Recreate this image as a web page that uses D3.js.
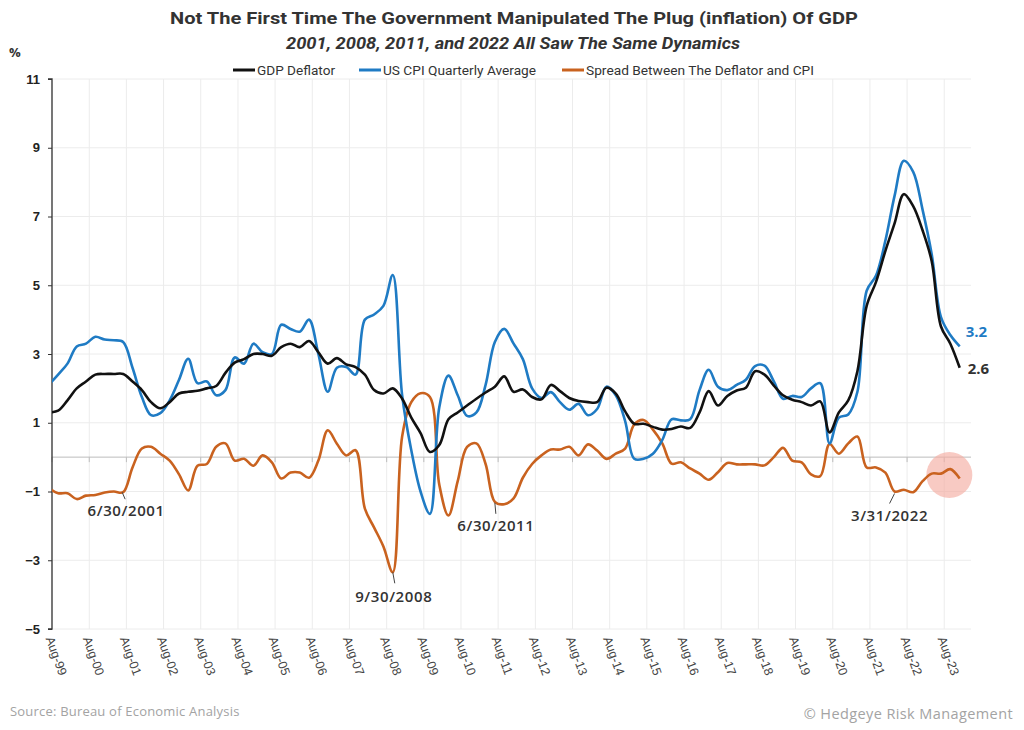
<!DOCTYPE html>
<html>
<head>
<meta charset="utf-8">
<script src="https://cdn.jsdelivr.net/npm/d3@7"></script>
<style>
  body { margin: 0; background: #fff; }
  svg { display: block; font-family: "Open Sans", "Noto Sans", sans-serif; }
</style>
</head>
<body>
<div id="chart"></div>
<script>
// quarterly values, Q2 1999 .. Q4 2023 (quarter-end dates)
const firstQuarter = [1999, 6];
const gdpDeflator = [
  1.3, 1.35, 1.65, 2.0, 2.2, 2.4, 2.42, 2.42, 2.42, 2.2,
  1.95, 1.6, 1.42, 1.6, 1.85, 1.9, 1.93, 2.0, 2.07, 2.45,
  2.75, 2.85, 3.0, 3.0, 2.95, 3.2, 3.3, 3.2, 3.38, 3.05,
  2.72, 2.88, 2.7, 2.62, 2.4, 1.95, 1.85, 2.0, 1.7, 1.15,
  0.7, 0.15, 0.35, 1.1, 1.3, 1.5, 1.7, 1.88, 2.05, 2.35,
  1.9, 1.97, 1.75, 1.68, 2.1, 1.92, 1.72, 1.63, 1.6, 1.6,
  2.02, 1.85, 1.33, 0.97, 0.97, 0.88, 0.8, 0.82, 0.89, 0.85,
  1.3, 1.92, 1.5, 1.78, 1.94, 2.02, 2.5, 2.4, 2.08, 1.8,
  1.67, 1.6, 1.5, 1.62, 0.72, 1.3, 1.65, 2.5, 4.4, 5.1,
  6.0, 6.8, 7.65, 7.3, 6.6, 5.7, 3.8, 3.3, 2.6
];
const cpiQuarterly = [
  2.1, 2.4, 2.72, 3.22, 3.3, 3.5, 3.42, 3.4, 3.35, 2.6,
  1.75, 1.22, 1.28, 1.65, 2.25, 2.86, 2.15, 2.2, 1.8, 1.95,
  2.9, 2.72, 3.3, 3.05, 3.0, 3.85, 3.73, 3.65, 4.0, 3.0,
  1.9, 2.6, 2.62, 2.4, 4.0, 4.15, 4.4, 5.3, 1.8, 0.2,
  -1.0, -1.65, 1.45, 2.37, 1.8, 1.2, 1.3, 2.1, 3.35, 3.73,
  3.3, 2.85, 2.0, 1.72, 1.89, 1.6, 1.38, 1.55, 1.22, 1.4,
  2.05, 1.8, 1.05, -0.05, -0.05, 0.1, 0.5, 1.1, 1.07, 1.1,
  1.95, 2.54, 2.05, 1.95, 2.1, 2.25, 2.65, 2.66, 2.2, 1.7,
  1.78, 1.75, 2.0, 2.15, 0.4, 1.15, 1.24, 1.9, 4.84, 5.28,
  6.3, 7.6, 8.62, 8.3, 7.2, 5.9, 4.07, 3.55, 3.22
];
const spread = [
  -0.9, -1.05, -1.05, -1.22, -1.12, -1.1, -1.03, -1.0, -1.02, -0.3,
  0.25, 0.3, 0.1, -0.1, -0.5, -0.97, -0.25, -0.2, 0.3, 0.4,
  -0.1, -0.05, -0.25, 0.05, -0.15, -0.62, -0.45, -0.45, -0.6, -0.1,
  0.78, 0.39, 0.05, 0.2, -1.5, -2.05, -2.6, -3.35, 0.6, 1.6,
  1.86, 1.75, -0.8, -1.7, -0.7, 0.3, 0.4, -0.2, -1.3, -1.37,
  -1.2, -0.6, -0.2, 0.05, 0.22, 0.22, 0.3, 0.05, 0.37, 0.19,
  -0.05, 0.1, 0.25, 0.95, 1.08, 0.8, 0.4, -0.19, -0.15, -0.33,
  -0.48, -0.66, -0.44, -0.17, -0.21, -0.21, -0.21, -0.24, 0.0, 0.27,
  -0.1, -0.15, -0.5, -0.55, 0.38, 0.1, 0.4, 0.6, -0.3, -0.3,
  -0.45, -1.0, -0.95, -1.02, -0.7, -0.48, -0.48, -0.35, -0.62
];
const yTicks = [11, 9, 7, 5, 3, 1, -1, -3, -5];
const tickYears = d3.range(1999, 2024);
const seriesNames = ["GDP Deflator", "US CPI Quarterly Average", "Spread Between The Deflator and CPI"];
const callouts = [
  { label: "6/30/2001", index: 8 },
  { label: "9/30/2008", index: 37 },
  { label: "6/30/2011", index: 48 },
  { label: "3/31/2022", index: 91 }
];

const colors = ["#111111", "#1f7bc4", "#c9621f"];
const width = 1024, height = 730;
const plot = { left: 52, right: 971, top: 79, bottom: 629 };

// last day of each quarter
const dates = gdpDeflator.map((d, i) => new Date(firstQuarter[0], firstQuarter[1] + 3 * i, 0));

const svg = d3.select("#chart").append("svg")
    .attr("width", width)
    .attr("height", height);

const x = d3.scaleTime()
    .domain([new Date(1999, 7, 1), new Date(2024, 3, 20)])
    .range([plot.left, plot.right]);

const y = d3.scaleLinear()
    .domain([-5, 11])
    .range([plot.bottom, plot.top]);

// grid
const tickDates = tickYears.map(yr => new Date(yr, 7, 1));

svg.append("g")
    .selectAll("line")
    .data(tickDates)
    .join("line")
    .attr("x1", d => x(d)).attr("x2", d => x(d))
    .attr("y1", plot.top).attr("y2", plot.bottom)
    .attr("stroke", "#ececec");

svg.append("g")
    .selectAll("line")
    .data(yTicks)
    .join("line")
    .attr("x1", plot.left).attr("x2", plot.right)
    .attr("y1", d => y(d)).attr("y2", d => y(d))
    .attr("stroke", "#ececec");

// zero line with small ticks
svg.append("line")
    .attr("x1", plot.left).attr("x2", plot.right)
    .attr("y1", y(0)).attr("y2", y(0))
    .attr("stroke", "#bdbdbd");

svg.append("g")
    .selectAll("line")
    .data(tickDates)
    .join("line")
    .attr("x1", d => x(d)).attr("x2", d => x(d))
    .attr("y1", y(0)).attr("y2", y(0) + 5)
    .attr("stroke", "#bdbdbd");

// y axis
const yAxis = svg.append("g")
    .attr("transform", "translate(" + plot.left + ",0)")
    .call(d3.axisLeft(y).tickValues(yTicks).tickSize(4).tickPadding(8).tickFormat(d3.format("d")));
yAxis.select(".domain").attr("stroke", "#333").attr("stroke-width", 1.3).attr("d", "M-4," + plot.top + "H0V" + plot.bottom + "H-4");
yAxis.selectAll(".tick line").attr("stroke", "#333");
yAxis.selectAll("text")
    .attr("fill", "#222")
    .style("font-size", "13px")
    .style("font-weight", "700");

// x axis labels
const xAxis = svg.append("g")
    .attr("transform", "translate(0," + plot.bottom + ")")
    .call(d3.axisBottom(x).tickValues(tickDates).tickSize(0).tickFormat(d3.timeFormat("%b-%y")));
xAxis.select(".domain").remove();
xAxis.selectAll("text")
    .attr("fill", "#444")
    .style("font-size", "12.5px")
    .attr("text-anchor", "start")
    .attr("transform", "translate(-3,8) rotate(70)")
    .attr("dy", "0.35em")
    .attr("y", 0)
    .attr("x", 0);

// clip
svg.append("clipPath")
    .attr("id", "plot-clip")
    .append("rect")
    .attr("x", plot.left)
    .attr("y", plot.top - 10)
    .attr("width", plot.right - plot.left)
    .attr("height", plot.bottom - plot.top + 10);

const line = d3.line()
    .x((d, i) => x(dates[i]))
    .y(d => y(d))
    .curve(d3.curveCatmullRom.alpha(0.5));

// highlight circle behind the last spread readings
svg.append("circle")
    .attr("cx", x(dates[97]) - 1)
    .attr("cy", y(-0.52))
    .attr("r", 23)
    .attr("fill", "#f4aea3")
    .attr("opacity", 0.65);

const lines = svg.append("g").attr("clip-path", "url(#plot-clip)");
[spread, cpiQuarterly, gdpDeflator].forEach((s, k) => {
    lines.append("path")
        .datum(s)
        .attr("fill", "none")
        .attr("stroke", colors[2 - k])
        .attr("stroke-width", 2.6)
        .attr("stroke-linejoin", "round")
        .attr("d", line);
});

// callouts: leader from the spread line down to its date label
const calloutOffsets = {
    "6/30/2001": { x1: -1, y1: -4, x2: 2, y2: 3, tx: 3, ty: 20 },
    "9/30/2008": { x1: 0, y1: -4, x2: 2, y2: 7, tx: 1, ty: 26 },
    "6/30/2011": { x1: 0, y1: -3, x2: 1, y2: 8, tx: 1, ty: 25 },
    "3/31/2022": { x1: 0, y1: -2, x2: -5, y2: 8, tx: -5, ty: 25 }
};
const callG = svg.append("g");
callouts.forEach(c => {
    const o = calloutOffsets[c.label];
    const px = x(dates[c.index]);
    const py = y(spread[c.index]) + 4;
    callG.append("line")
        .attr("x1", px + o.x1).attr("y1", py + o.y1)
        .attr("x2", px + o.x2).attr("y2", py + o.y2)
        .attr("stroke", "#444")
        .attr("stroke-width", 1);
    callG.append("text")
        .attr("x", px + o.tx)
        .attr("y", py + o.ty)
        .attr("text-anchor", "middle")
        .attr("fill", "#333")
        .style("font-size", "15px")
        .style("font-weight", "600")
        .style("letter-spacing", "0.6px")
        .text(c.label);
});

// end labels
const last = gdpDeflator.length - 1;
svg.append("text")
    .attr("x", x(dates[last]) + 6)
    .attr("y", y(cpiQuarterly[last]) - 9)
    .attr("fill", colors[1])
    .style("font-size", "15px")
    .style("font-weight", "700")
    .text(d3.format(".1f")(cpiQuarterly[last]));
svg.append("text")
    .attr("x", x(dates[last]) + 8)
    .attr("y", y(gdpDeflator[last]) + 6)
    .attr("fill", "#333")
    .style("font-size", "15px")
    .style("font-weight", "700")
    .text(d3.format(".1f")(gdpDeflator[last]));

// titles
svg.append("text")
    .attr("x", 514).attr("y", 24)
    .attr("text-anchor", "middle")
    .attr("fill", "#333")
    .style("font-family", "Roboto, sans-serif")
    .style("font-size", "17px")
    .style("font-weight", "700")
    .attr("textLength", 688)
    .attr("lengthAdjust", "spacingAndGlyphs")
    .text("Not The First Time The Government Manipulated The Plug (inflation) Of GDP");
svg.append("text")
    .attr("x", 513).attr("y", 49)
    .attr("text-anchor", "middle")
    .attr("fill", "#333")
    .style("font-family", "Roboto, sans-serif")
    .style("font-size", "17px")
    .style("font-weight", "700")
    .style("font-style", "italic")
    .attr("textLength", 454)
    .attr("lengthAdjust", "spacingAndGlyphs")
    .text("2001, 2008, 2011, and 2022 All Saw The Same Dynamics");

svg.append("text")
    .attr("x", 9).attr("y", 57)
    .attr("fill", "#333")
    .style("font-size", "13px")
    .style("font-weight", "700")
    .text("%");

// legend
const legendPos = [233, 359, 562];
const legendWidths = [78, 153, 228];
const legend = svg.append("g");
seriesNames.forEach((name, k) => {
    legend.append("line")
        .attr("x1", legendPos[k]).attr("x2", legendPos[k] + 22)
        .attr("y1", 70).attr("y2", 70)
        .attr("stroke", colors[k])
        .attr("stroke-width", 3);
    legend.append("text")
        .attr("x", legendPos[k] + 24)
        .attr("y", 74.5)
        .attr("fill", "#333")
        .style("font-family", "Roboto, sans-serif")
        .style("font-size", "12.5px")
        .attr("textLength", legendWidths[k])
        .attr("lengthAdjust", "spacingAndGlyphs")
        .text(name);
});

// footer
svg.append("text")
    .attr("x", 10).attr("y", 716)
    .attr("fill", "#a3a3a3")
    .style("font-size", "13px")
    .style("letter-spacing", "0.2px")
    .text("Source: Bureau of Economic Analysis");
svg.append("text")
    .attr("x", 1013).attr("y", 719)
    .attr("text-anchor", "end")
    .attr("fill", "#a3a3a3")
    .style("font-size", "14.5px")
    .style("letter-spacing", "0.4px")
    .text("© Hedgeye Risk Management");
</script>
</body>
</html>
